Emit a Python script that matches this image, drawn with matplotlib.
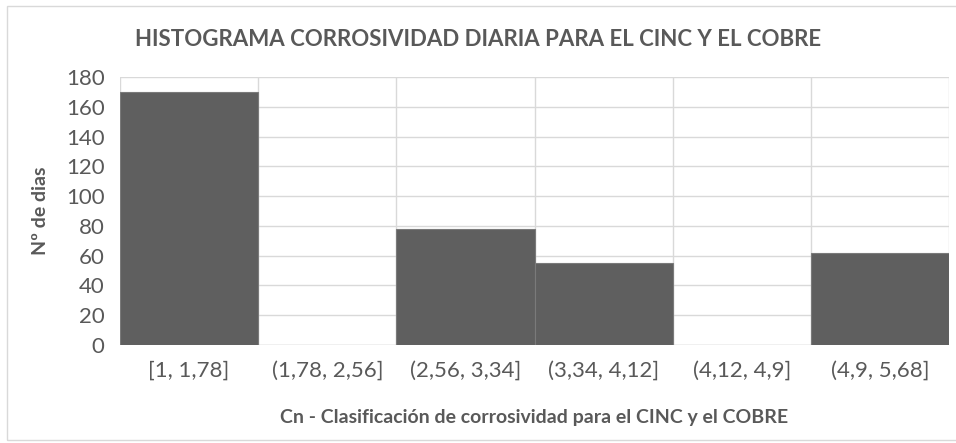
import matplotlib
matplotlib.use("Agg")
import matplotlib.pyplot as plt
from matplotlib.patches import Rectangle

categories = ["[1, 1,78]", "(1,78, 2,56]", "(2,56, 3,34]", "(3,34, 4,12]", "(4,12, 4,9]", "(4,9, 5,68]"]
counts = [170, 0, 78, 55, 0, 62]
yticks = [0, 20, 40, 60, 80, 100, 120, 140, 160, 180]

plt.rcParams['font.family'] = ['Lato', 'DejaVu Sans']
W, H = 956, 443
fig = plt.figure(figsize=(W/100, H/100), dpi=100)
ax = fig.add_axes([120/W, 1-345/H, (949-120)/W, (345-77)/H])

txt = '#595959'
x = list(range(len(categories)))
ax.bar(x, counts, width=1.0, color='#5f5f5f', edgecolor='#7a7a7a', linewidth=0.8, zorder=3)
ax.set_xlim(-0.5, len(categories)-0.5)
ax.set_ylim(0, 180)
ax.set_yticks(yticks)
ax.set_xticks(x)
ax.set_xticklabels(categories)
ax.tick_params(axis='both', length=0, labelsize=16, colors=txt)
ax.tick_params(axis='x', pad=11)
ax.tick_params(axis='y', pad=11)
for yv in yticks:
    ax.axhline(yv, color='#d9d9d9', linewidth=1, zorder=1)
for b in [i - 0.5 for i in range(len(categories)+1)]:
    ax.axvline(b, color='#d9d9d9', linewidth=1, zorder=1)
for s in ax.spines.values():
    s.set_visible(False)

fig.text(478/W, 1-40/H, 'HISTOGRAMA CORROSIVIDAD DIARIA PARA EL CINC Y EL COBRE',
         ha='center', va='center', fontsize=16, fontweight='bold', color=txt)
fig.text(534/W, 1-417/H, 'Cn - Clasificación de corrosividad para el CINC y el COBRE',
         ha='center', va='center', fontsize=14, fontweight='bold', color=txt)
fig.text(40/W, 1-211/H, 'Nº de dias', ha='center', va='center', rotation=90,
         fontsize=14, fontweight='bold', color=txt)

fig.patches.append(Rectangle((7/W, 1-440/H), 1.2, (440-6)/H, transform=fig.transFigure,
                             fill=False, edgecolor='#d9d9d9', linewidth=1))
fig.savefig('out.png', dpi=100)
